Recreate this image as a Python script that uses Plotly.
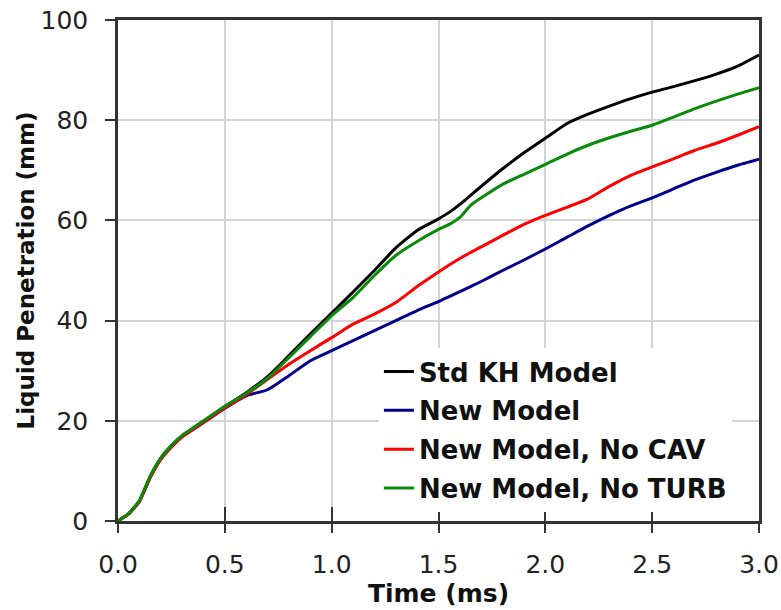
import plotly.graph_objects as go

# Time axis (ms)
time_ms = [0.0, 0.05, 0.1, 0.15, 0.2, 0.25, 0.3, 0.4, 0.5, 0.6, 0.7, 0.8, 0.9,
           1.0, 1.1, 1.2, 1.3, 1.4, 1.5, 1.55, 1.6, 1.65, 1.7, 1.8, 1.9,
           2.0, 2.1, 2.2, 2.3, 2.4, 2.5, 2.6, 2.7, 2.8, 2.9, 3.0]

# Liquid penetration (mm) for each model variant
std_kh = [0.0, 1.5, 4.0, 8.8, 12.5, 15.0, 17.0, 19.9, 22.8, 25.6, 28.8, 33.0, 37.3,
          41.5, 45.7, 50.0, 54.5, 58.0, 60.3, 61.6, 63.2, 65.0, 66.8, 70.3, 73.5,
          76.4, 79.3, 81.2, 82.8, 84.3, 85.6, 86.7, 87.9, 89.2, 90.8, 93.0]
new_model = [0.0, 1.4, 3.9, 8.6, 12.3, 14.8, 16.8, 19.6, 22.5, 25.0, 26.2, 29.0, 32.0,
             34.0, 36.0, 38.0, 40.0, 42.0, 43.8, 44.8, 45.8, 46.8, 47.8, 50.0, 52.1,
             54.3, 56.6, 58.9, 61.0, 62.9, 64.5, 66.3, 68.1, 69.6, 71.0, 72.2]
no_cav = [0.0, 1.4, 3.9, 8.6, 12.3, 14.8, 16.8, 19.7, 22.6, 25.2, 28.3, 31.3, 34.0,
          36.6, 39.3, 41.3, 43.6, 46.8, 49.7, 51.1, 52.4, 53.6, 54.7, 57.0, 59.2,
          61.0, 62.6, 64.3, 66.8, 69.0, 70.7, 72.3, 74.0, 75.4, 77.0, 78.7]
no_turb = [0.0, 1.5, 4.1, 8.9, 12.6, 15.1, 17.1, 20.0, 22.9, 25.5, 28.5, 32.6, 36.8,
           41.0, 44.6, 49.0, 53.0, 55.8, 58.2, 59.2, 60.6, 63.0, 64.5, 67.2, 69.2,
           71.2, 73.2, 75.0, 76.5, 77.8, 79.0, 80.6, 82.3, 83.8, 85.2, 86.5]

series = [
    ("Std KH Model", std_kh, "#000000"),
    ("New Model", new_model, "#00008c"),
    ("New Model, No CAV", no_cav, "#ff0000"),
    ("New Model, No TURB", no_turb, "#0a8a0a"),
]

x_ticks = [0.0, 0.5, 1.0, 1.5, 2.0, 2.5, 3.0]
y_ticks = [0, 20, 40, 60, 80, 100]

FONT = "DejaVu Sans"

fig = go.Figure()
for name, vals, color in series:
    fig.add_trace(go.Scatter(
        x=time_ms, y=vals, name=name, mode="lines", legendgroup=name,
        line=dict(color=color, width=3, shape="spline", smoothing=0.5),
    ))

# invisible helper trace so the inner tick axis is drawn
fig.add_trace(go.Scatter(x=[0], y=[0], xaxis="x2", mode="markers",
                         marker=dict(opacity=0), showlegend=False,
                         hoverinfo="skip"))

fig.update_layout(
    width=781, height=610,
    margin=dict(l=118, r=22, t=20, b=89),
    paper_bgcolor="white", plot_bgcolor="white",
    showlegend=True,
    legend=dict(
        x=0.407, y=0.345, xanchor="left", yanchor="top",
        bgcolor="white", borderwidth=0,
        font=dict(family=FONT, size=26, color="#111", weight="bold"),
        itemwidth=30, tracegroupgap=2,
    ),
    xaxis=dict(
        range=[0, 3], tickvals=x_ticks, ticktext=[f"{v:.1f}" for v in x_ticks],
        ticks="outside", ticklen=9, tickwidth=2, tickcolor="#333",
        showline=True, linewidth=2.5, linecolor="#333", mirror=True,
        showgrid=True, gridcolor="#d4d4d4", gridwidth=2, zeroline=False,
        tickfont=dict(family=FONT, size=25, color="#222"),
        ticklabelstandoff=10, automargin=False,
        title=dict(text="Time (ms)", standoff=3,
                   font=dict(family=FONT, size=25, color="#111", weight="bold")),
    ),
    xaxis2=dict(
        range=[0, 3], tickvals=x_ticks, overlaying="x", side="bottom",
        ticks="inside", ticklen=14, tickwidth=2, tickcolor="#333",
        showticklabels=False, showgrid=False, showline=False, zeroline=False,
        automargin=False,
    ),
    yaxis=dict(
        range=[0, 100], tickvals=y_ticks,
        ticks="outside", ticklen=10, tickwidth=2, tickcolor="#333",
        showline=True, linewidth=2.5, linecolor="#333", mirror=True,
        showgrid=True, gridcolor="#d4d4d4", gridwidth=2, zeroline=False,
        tickfont=dict(family=FONT, size=25, color="#222"),
        ticklabelstandoff=12, automargin=False,
        title=dict(text="Liquid Penetration (mm)", standoff=0,
                   font=dict(family=FONT, size=23, color="#111", weight="bold")),
    ),
)

fig.write_html("out.html")
